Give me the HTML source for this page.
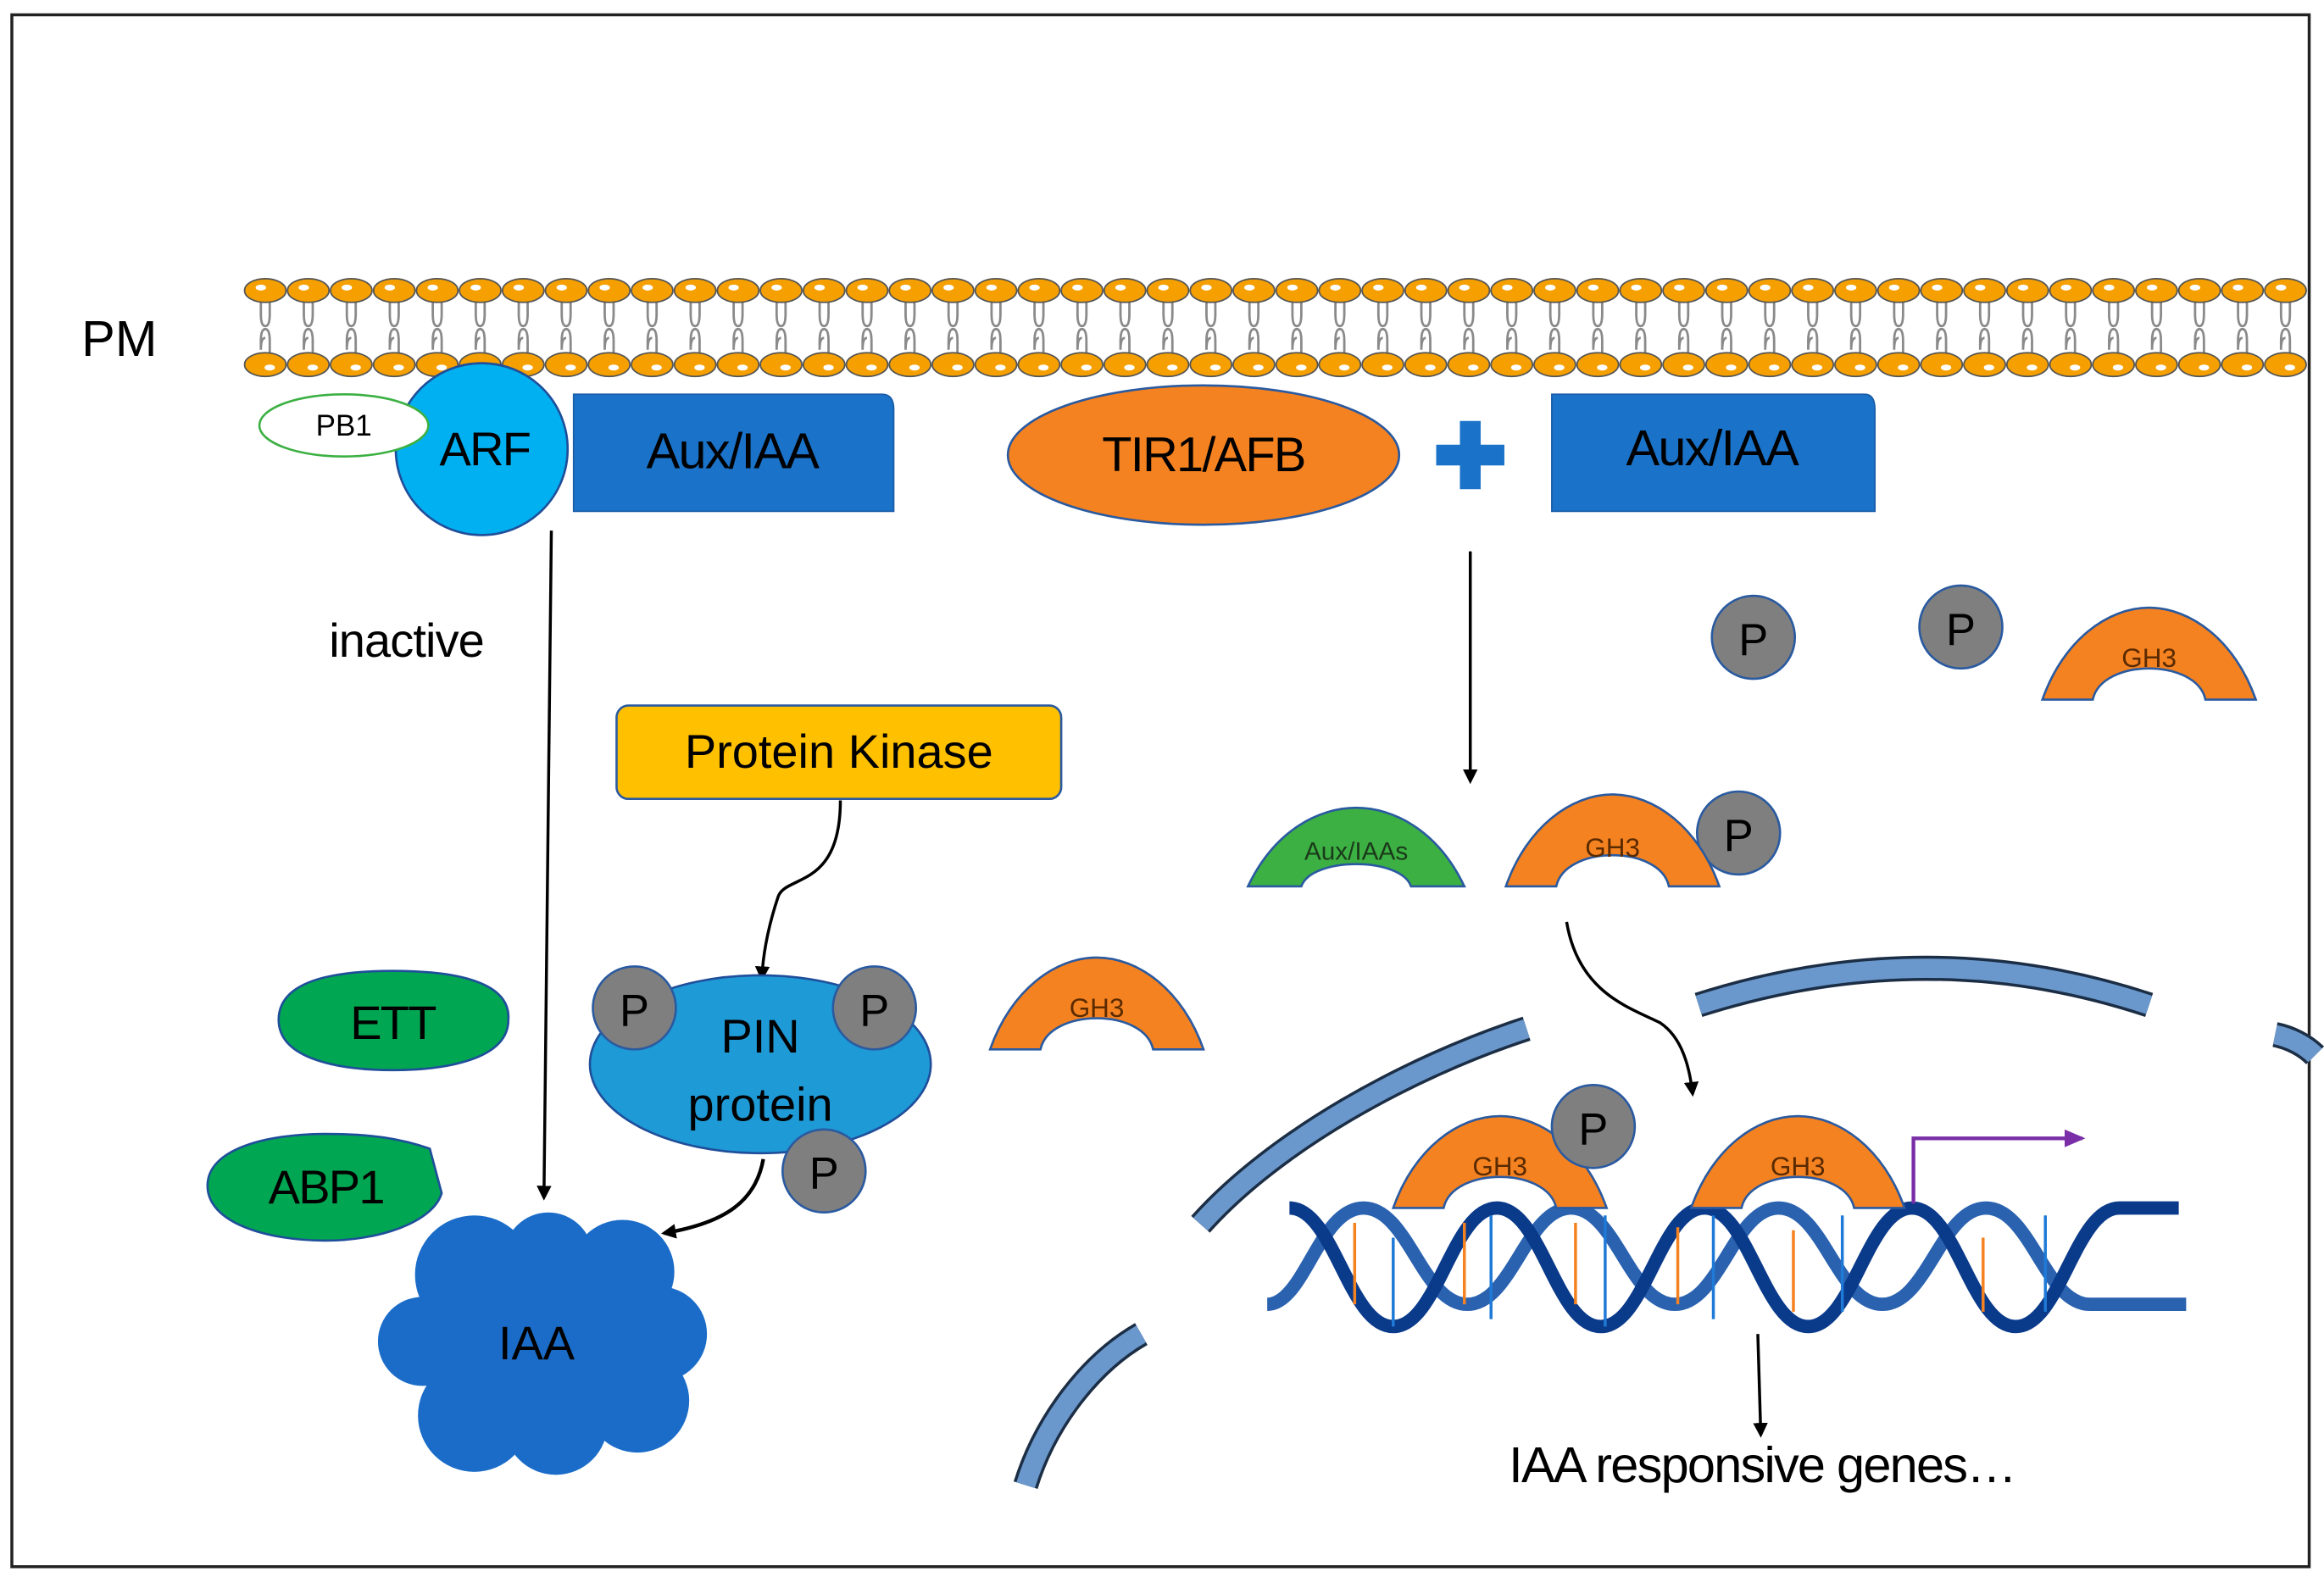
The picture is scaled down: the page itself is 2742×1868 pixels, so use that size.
<!DOCTYPE html>
<html><head><meta charset="utf-8"><style>html,body{margin:0;padding:0;background:#fff}svg{display:block}</style></head><body>
<svg width="2742" height="1868" viewBox="0 0 1568 1068" preserveAspectRatio="none" xmlns="http://www.w3.org/2000/svg" font-family="Liberation Sans, sans-serif">
<defs>
<marker id="ah" markerWidth="10" markerHeight="10" refX="8" refY="5" orient="auto" markerUnits="userSpaceOnUse"><path d="M0,0 L10,5 L0,10 Z" fill="#000"/></marker>
<marker id="ap" markerWidth="14" markerHeight="12" refX="12" refY="6" orient="auto" markerUnits="userSpaceOnUse"><path d="M0,0 L14,6 L0,12 Z" fill="#7a2fa8"/></marker>
<g id="lip">
<path d="M-3,204 L-3,212 Q-3,220 0,220 Q3,220 3,212 L3,204 M0,204 L-3,200 M0,204 L3,200" fill="none" stroke="#8a8a8a" stroke-width="1.6"/>
<path d="M-3,230 L-3,236 Q-3,228 0,228 M-3,230 Q-3,222 0,222 Q3,222 3,230 L3,238 M0,238 L-3,242 M0,238 L3,242" fill="none" stroke="#8a8a8a" stroke-width="1.6"/>
<ellipse cx="0" cy="196" rx="14" ry="8" fill="#f5a000" stroke="#555" stroke-width="1"/>
<ellipse cx="-3" cy="194" rx="3.5" ry="2" fill="#fff"/>
<ellipse cx="0" cy="246" rx="14" ry="8" fill="#f5a000" stroke="#555" stroke-width="1"/>
<ellipse cx="3" cy="248" rx="3.5" ry="2" fill="#fff"/>
</g>
<g id="gh3"><path d="M-72,0 C-58,-40 -28,-62 0,-62 C28,-62 58,-40 72,0 L38,0 C32,-28 -32,-28 -38,0 Z" fill="#f58220" stroke="#2a5aa0" stroke-width="1.5"/></g>
</defs>
<rect x="8" y="10" width="1550" height="1047" fill="#fff" stroke="#222" stroke-width="2"/>
<g>
<use href="#lip" x="179"/><use href="#lip" x="208"/><use href="#lip" x="237"/><use href="#lip" x="266"/><use href="#lip" x="295"/><use href="#lip" x="324"/><use href="#lip" x="353"/><use href="#lip" x="382"/><use href="#lip" x="411"/><use href="#lip" x="440"/><use href="#lip" x="469"/><use href="#lip" x="498"/><use href="#lip" x="527"/><use href="#lip" x="556"/><use href="#lip" x="585"/><use href="#lip" x="614"/><use href="#lip" x="643"/><use href="#lip" x="672"/><use href="#lip" x="701"/><use href="#lip" x="730"/><use href="#lip" x="759"/><use href="#lip" x="788"/><use href="#lip" x="817"/><use href="#lip" x="846"/><use href="#lip" x="875"/><use href="#lip" x="904"/><use href="#lip" x="933"/><use href="#lip" x="962"/><use href="#lip" x="991"/><use href="#lip" x="1020"/><use href="#lip" x="1049"/><use href="#lip" x="1078"/><use href="#lip" x="1107"/><use href="#lip" x="1136"/><use href="#lip" x="1165"/><use href="#lip" x="1194"/><use href="#lip" x="1223"/><use href="#lip" x="1252"/><use href="#lip" x="1281"/><use href="#lip" x="1310"/><use href="#lip" x="1339"/><use href="#lip" x="1368"/><use href="#lip" x="1397"/><use href="#lip" x="1426"/><use href="#lip" x="1455"/><use href="#lip" x="1484"/><use href="#lip" x="1513"/><use href="#lip" x="1542"/>
</g>
<text x="55" y="240" font-size="34">PM</text>
<circle cx="325" cy="303" r="58" fill="#00b0f0" stroke="#1f4e9a" stroke-width="1.5"/>
<ellipse cx="232" cy="287" rx="57" ry="21" fill="#fff" stroke="#3cb043" stroke-width="1.5"/>
<text x="232" y="294" font-size="20" text-anchor="middle">PB1</text>
<text x="327" y="314" font-size="32" text-anchor="middle" letter-spacing="-1">ARF</text>
<path d="M387,266 L595,266 Q603,266 603,276 L603,345 L387,345 Z" fill="#1a73c9" stroke="#1a5ca8"/>
<text x="494" y="316" font-size="34" text-anchor="middle" letter-spacing="-1">Aux/IAA</text>
<ellipse cx="812" cy="307" rx="132" ry="47" fill="#f58220" stroke="#2a5aa0" stroke-width="1.5"/>
<text x="812" y="318" font-size="33" text-anchor="middle" letter-spacing="-1">TIR1/AFB</text>
<path d="M985,284 h14 v16 h16 v14 h-16 v16 h-14 v-16 h-16 v-14 h16 Z" fill="#1a73c9"/>
<path d="M1047,266 L1258,266 Q1265,266 1265,276 L1265,345 L1047,345 Z" fill="#1a73c9" stroke="#1a5ca8"/>
<text x="1155" y="314" font-size="34" text-anchor="middle" letter-spacing="-1">Aux/IAA</text>
<line x1="372" y1="358" x2="367" y2="808" stroke="#000" stroke-width="2" marker-end="url(#ah)"/>
<text x="222" y="443" font-size="32" letter-spacing="-0.5">inactive</text>
<line x1="992" y1="372" x2="992" y2="527" stroke="#000" stroke-width="2" marker-end="url(#ah)"/>
<rect x="416" y="476" width="300" height="63" rx="8" fill="#ffc000" stroke="#2a5aa0" stroke-width="1.5"/>
<text x="566" y="518" font-size="32" text-anchor="middle">Protein Kinase</text>
<path d="M567,540 C567,600 530,590 525,605 C520,620 515,640 514,660" fill="none" stroke="#000" stroke-width="2" marker-end="url(#ah)"/>
<ellipse cx="513" cy="718" rx="115" ry="60" fill="#1e9ad6" stroke="#1f4e9a" stroke-width="1.5"/>
<text x="513" y="710" font-size="32" text-anchor="middle">PIN</text>
<text x="513" y="756" font-size="32" text-anchor="middle">protein</text>
<g font-size="30" text-anchor="middle">
<circle cx="428" cy="680" r="28" fill="#7f7f7f" stroke="#2a5aa0" stroke-width="1.5"/><text x="428" y="692">P</text>
<circle cx="590" cy="680" r="28" fill="#7f7f7f" stroke="#2a5aa0" stroke-width="1.5"/><text x="590" y="692">P</text>
<circle cx="556" cy="790" r="28" fill="#7f7f7f" stroke="#2a5aa0" stroke-width="1.5"/><text x="556" y="802">P</text>
<circle cx="1183" cy="430" r="28" fill="#7f7f7f" stroke="#2a5aa0" stroke-width="1.5"/><text x="1183" y="442">P</text>
<circle cx="1323" cy="423" r="28" fill="#7f7f7f" stroke="#2a5aa0" stroke-width="1.5"/><text x="1323" y="435">P</text>
<circle cx="1173" cy="562" r="28" fill="#7f7f7f" stroke="#2a5aa0" stroke-width="1.5"/><text x="1173" y="574">P</text>
</g>
<path d="M515,782 C510,810 490,825 448,832" fill="none" stroke="#000" stroke-width="2.5" marker-end="url(#ah)"/>
<path d="M188,688 C188,660 230,655 265,655 C300,655 345,660 343,688 C343,715 300,722 265,722 C230,722 188,715 188,688 Z" fill="#00a651" stroke="#1f4e9a" stroke-width="1.5"/>
<text x="265" y="701" font-size="32" text-anchor="middle" letter-spacing="-1">ETT</text>
<path d="M140,800 C140,775 180,765 220,765 C250,765 270,768 290,775 L298,805 C292,825 255,837 220,837 C180,837 140,825 140,800 Z" fill="#00a651" stroke="#1f4e9a" stroke-width="1.5"/>
<text x="220" y="812" font-size="32" text-anchor="middle" letter-spacing="-1">ABP1</text>
<g fill="#1a6cc8">
<circle cx="320" cy="860" r="40"/><circle cx="370" cy="848" r="30"/><circle cx="420" cy="858" r="35"/><circle cx="445" cy="900" r="32"/><circle cx="430" cy="945" r="35"/><circle cx="375" cy="960" r="35"/><circle cx="320" cy="955" r="38"/><circle cx="285" cy="905" r="30"/><circle cx="370" cy="905" r="75"/>
</g>
<text x="362" y="917" font-size="32" text-anchor="middle">IAA</text>
<use href="#gh3" x="740" y="708"/><text x="740" y="686" font-size="18" text-anchor="middle" fill="#5a2a00">GH3</text>
<use href="#gh3" x="1450" y="472"/><text x="1450" y="450" font-size="18" text-anchor="middle" fill="#5a2a00">GH3</text>
<path d="M842,598 C860,560 890,545 915,545 C940,545 970,560 988,598 L952,598 C945,578 885,578 878,598 Z" fill="#3cb043" stroke="#2a5aa0" stroke-width="1.5"/>
<text x="915" y="580" font-size="17" text-anchor="middle" fill="#1a3a1a">Aux/IAAs</text>
<use href="#gh3" x="1088" y="598"/><text x="1088" y="578" font-size="18" text-anchor="middle" fill="#5a2a00">GH3</text>
<path d="M1057,622 C1065,670 1100,680 1120,690 C1135,700 1140,720 1142,738" fill="none" stroke="#000" stroke-width="2" marker-end="url(#ah)"/>
<g fill="none" stroke-linecap="butt">
<path d="M810,826 C860,770 950,720 1030,694" stroke="#1c2e45" stroke-width="17"/>
<path d="M810,826 C860,770 950,720 1030,694" stroke="#6a98cc" stroke-width="13"/>
<path d="M1146,678 C1250,645 1350,645 1450,678" stroke="#1c2e45" stroke-width="17"/>
<path d="M1146,678 C1250,645 1350,645 1450,678" stroke="#6a98cc" stroke-width="13"/>
<path d="M692,1002 C705,960 735,920 770,900" stroke="#1c2e45" stroke-width="17"/>
<path d="M692,1002 C705,960 735,920 770,900" stroke="#6a98cc" stroke-width="13"/>
<path d="M1535,698 C1545,700 1555,705 1562,712" stroke="#1c2e45" stroke-width="17"/>
<path d="M1535,698 C1545,700 1555,705 1562,712" stroke="#6a98cc" stroke-width="13"/>
</g>
<g fill="none">
<path d="M855,880 C880,880 890,815 920,815 C950,815 960,880 990,880 C1020,880 1030,815 1060,815 C1090,815 1100,880 1130,880 C1160,880 1170,815 1200,815 C1230,815 1240,880 1270,880 C1300,880 1310,815 1340,815 C1370,815 1380,880 1410,880 C1440,880 1450,880 1475,880" stroke="#2a62b0" stroke-width="9"/>
<path d="M870,815 C900,815 910,895 940,895 C970,895 980,815 1010,815 C1040,815 1050,895 1080,895 C1110,895 1120,815 1150,815 C1180,815 1190,895 1220,895 C1250,895 1260,815 1290,815 C1320,815 1330,895 1360,895 C1390,895 1400,815 1430,815 C1450,815 1460,815 1470,815" stroke="#0a3a8a" stroke-width="9"/>
</g>
<g stroke-width="2">
<line x1="914" y1="825" x2="914" y2="880" stroke="#f58220"/><line x1="940" y1="835" x2="940" y2="895" stroke="#1e7ad6"/>
<line x1="988" y1="825" x2="988" y2="880" stroke="#f58220"/><line x1="1006" y1="820" x2="1006" y2="890" stroke="#1e7ad6"/>
<line x1="1063" y1="825" x2="1063" y2="880" stroke="#f58220"/><line x1="1083" y1="820" x2="1083" y2="895" stroke="#1e7ad6"/>
<line x1="1132" y1="828" x2="1132" y2="880" stroke="#f58220"/><line x1="1156" y1="820" x2="1156" y2="890" stroke="#1e7ad6"/>
<line x1="1210" y1="830" x2="1210" y2="885" stroke="#f58220"/><line x1="1243" y1="820" x2="1243" y2="885" stroke="#1e7ad6"/>
<line x1="1338" y1="835" x2="1338" y2="885" stroke="#f58220"/><line x1="1380" y1="820" x2="1380" y2="885" stroke="#1e7ad6"/>
</g>
<use href="#gh3" x="1012" y="815"/><text x="1012" y="793" font-size="18" text-anchor="middle" fill="#5a2a00">GH3</text>
<circle cx="1075" cy="760" r="28" fill="#7f7f7f" stroke="#2a5aa0" stroke-width="1.5"/><text x="1075" y="772" font-size="30" text-anchor="middle">P</text>
<use href="#gh3" x="1213" y="815"/><text x="1213" y="793" font-size="18" text-anchor="middle" fill="#5a2a00">GH3</text>
<path d="M1291,812 L1291,768 L1405,768" fill="none" stroke="#7a2fa8" stroke-width="2.5" marker-end="url(#ap)"/>
<line x1="1186" y1="900" x2="1188" y2="968" stroke="#000" stroke-width="2" marker-end="url(#ah)"/>
<text x="1018" y="1000" font-size="34" letter-spacing="-1">IAA responsive genes…</text>
</svg>
</body></html>
